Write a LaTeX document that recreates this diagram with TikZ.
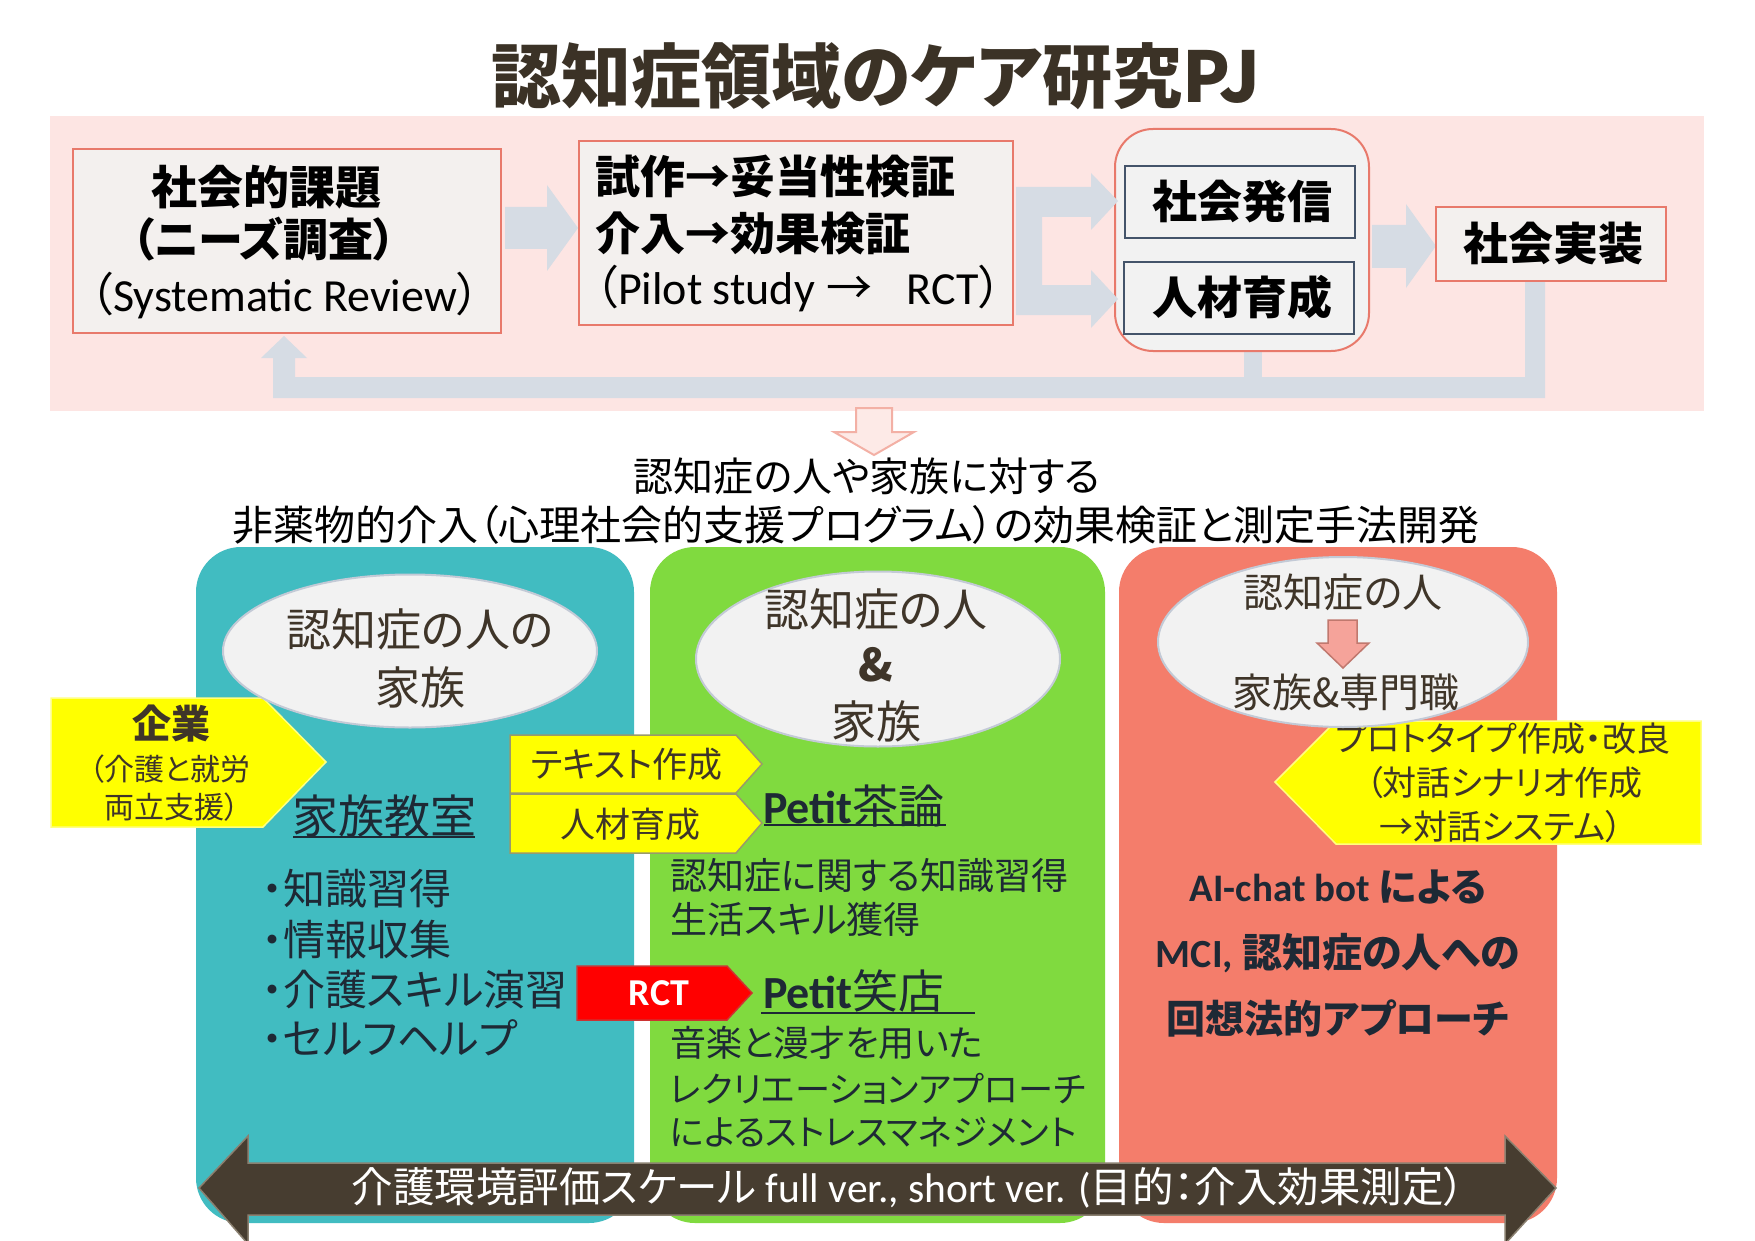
\documentclass[tikz,border=0pt]{standalone}
\usepackage{fontspec}
\setmainfont{Noto Sans CJK JP}[RawFeature=+palt]
\newfontfamily\cali{Carlito}
\usetikzlibrary{shapes.geometric}
\newcommand\myfs[1]{\fontsize{#1}{#1}\selectfont}
\definecolor{pinkband}{HTML}{FDE5E3}
\definecolor{boxfill}{HTML}{F3F0EE}
\definecolor{boxred}{HTML}{E8796B}
\definecolor{agrey}{HTML}{D6DCE4}
\definecolor{slate}{HTML}{44546A}
\definecolor{grpfill}{HTML}{F2F2F2}
\definecolor{tealp}{HTML}{41BCC1}
\definecolor{greenp}{HTML}{80DA3F}
\definecolor{salmp}{HTML}{F47D6B}
\definecolor{ellb}{HTML}{C3CAD6}
\definecolor{tbrown}{HTML}{3F3529}
\definecolor{tnavy}{HTML}{1E2935}
\definecolor{yel}{HTML}{FFFF00}
\definecolor{yelb}{HTML}{FFFF80}
\definecolor{olive}{HTML}{9A9A6A}
\definecolor{darkar}{HTML}{473D30}
\definecolor{darkarb}{HTML}{8A8070}
\definecolor{pinkar}{HTML}{FDEAE7}
\definecolor{pinkarb}{HTML}{F3B0A5}
\definecolor{minia}{HTML}{F5A39A}
\definecolor{miniab}{HTML}{C0786E}
\definecolor{titlec}{HTML}{3B3226}
\tikzset{
  txt/.style={inner sep=0pt, outer sep=0pt},
  topbox/.style={draw=boxred, line width=2, fill=boxfill, inner sep=0pt},
  innerbox/.style={draw=slate, line width=2, fill=grpfill, inner sep=0pt, minimum width=230, minimum height=72},
  panel/.style={rounded corners=45, inner sep=0pt, minimum height=676},
  ell/.style={ellipse, draw=ellb, line width=2, fill=grpfill, inner sep=0pt},
  blockar/.style={fill=agrey},
  yarrow/.style={fill=yel, draw=olive, line width=1.5},
  uline/.style={draw=tnavy, line width=2.5},
}
\begin{document}
\begin{tikzpicture}[x=1pt,y=-1pt]
\useasboundingbox (0,0) rectangle (1755,1241);
\fill[white] (0,0) rectangle (1755,1241);

% title
\node[txt, font=\myfs{70}\bfseries, text=titlec] (title) at (876,76) {認知症領域のケア研究PJ};

% top band
\fill[pinkband] (50,116) rectangle (1704,411);

% feedback loop arrow
\fill[blockar] (1545,281) -- (1545,398) -- (273,398) -- (273,358) -- (261,358) -- (284,336)
  -- (307,358) -- (295,358) -- (295,377) -- (1525,377) -- (1525,281) -- cycle;
\fill[blockar] (1244,350) rectangle (1262,378);

% boxes
\node[topbox, minimum width=428, minimum height=184] (b1) at (287,241) {};
\node[txt, font=\myfs{46}\bfseries] (b1a) at (266,187) {社会的課題};
\node[txt, font=\myfs{45}\bfseries] (b1b) at (264,239) {（ニーズ調査）};
\node[txt, font=\myfs{46}] (b1c) at (285,296) {（{\cali Systematic Review}）};

\node[topbox, minimum width=434, minimum height=184] (b2) at (796,233) {};
\node[txt, anchor=west, font=\myfs{45}\bfseries] (b2a) at (595,177) {試作→妥当性検証};
\node[txt, anchor=west, font=\myfs{45}\bfseries] (b2b) at (595,233) {介入→効果検証};
\node[txt, anchor=west, font=\myfs{46}] (b2c) at (595,289) {（{\cali Pilot study}\hspace{12pt}→\hspace{34pt}{\cali RCT}）};

% arrow b1 -> b2
\fill[blockar] (505,207) -- (547,207) -- (547,185) -- (578,228) -- (547,271) -- (547,249) -- (505,249) -- cycle;

% group box
\node[draw=boxred, line width=2, fill=grpfill, rounded corners=38, minimum width=254, minimum height=222, inner sep=0pt] (grp) at (1242,240) {};
\node[innerbox] (g1) at (1240,202) {};
\node[txt, font=\myfs{45}\bfseries] (g1t) at (1242,201) {社会発信};
\node[innerbox] (g2) at (1239,298) {};
\node[txt, font=\myfs{45}\bfseries] (g2t) at (1242,297) {人材育成};

% fork arrow b2 -> grp
\fill[blockar] (1016,187) -- (1091,187) -- (1091,173) -- (1118,201) -- (1091,230) -- (1091,217)
  -- (1042,217) -- (1042,285) -- (1091,285) -- (1091,270) -- (1118,299) -- (1091,328)
  -- (1091,315) -- (1016,315) -- cycle;

% arrow grp -> b3
\fill[blockar] (1372,225) -- (1406,225) -- (1406,204) -- (1436,246) -- (1406,288) -- (1406,268) -- (1372,268) -- cycle;

\node[topbox, minimum width=230, minimum height=73] (b3) at (1551,244) {};
\node[txt, font=\myfs{45}\bfseries] (b3t) at (1553,243) {社会実装};

% pink down arrow
\draw[fill=pinkar, draw=pinkarb, line width=2] (856,408) -- (892,408) -- (892,432) -- (914,432)
  -- (874,455) -- (834,432) -- (856,432) -- cycle;

% subtitles
\node[txt, font=\myfs{40}] (s1) at (867,476) {認知症の人や家族に対する};
\node[txt, font=\myfs{41}] (s2) at (856,525) {非薬物的介入（心理社会的支援プログラム）の効果検証と測定手法開発};

% panels
\node[panel, fill=tealp, minimum width=438] (p1) at (415,885) {};
\node[panel, fill=greenp, minimum width=455] (p2) at (877.5,885) {};
\node[panel, fill=salmp, minimum width=438] (p3) at (1338,885) {};

% yellow arrows (under ellipses)
\draw[fill=yel, draw=yelb, line width=1.5] (51,698) -- (263,698) -- (326,762) -- (263,827) -- (51,827) -- cycle;
\node[txt, font=\myfs{39}\bfseries, text=tbrown] (k1) at (171,724) {企業};
\node[txt, font=\myfs{30}, text=tbrown] (k2) at (170,769) {（介護と就労};
\node[txt, font=\myfs{30}, text=tbrown] (k3) at (172,807) {両立支援）};

\draw[fill=yel, draw=yelb, line width=1.5] (1701,721) -- (1336,721) -- (1275,782) -- (1336,844) -- (1701,844) -- cycle;
\node[txt, font=\myfs{34}, text=tbrown] (pr1) at (1503,739) {プロトタイプ作成・改良};
\node[txt, font=\myfs{34}, text=tbrown] (pr2) at (1504,783) {（対話シナリオ作成};
\node[txt, font=\myfs{34}, text=tbrown] (pr3) at (1501,827) {→対話システム）};

% ellipses
\node[ell, minimum width=374, minimum height=153] (e1) at (410,651) {};
\node[txt, font=\myfs{45}, text=tbrown] (e1a) at (420,629) {認知症の人の};
\node[txt, font=\myfs{45}, text=tbrown] (e1b) at (420,687) {家族};

\node[ell, minimum width=364, minimum height=175] (e2) at (878,659) {};
\node[txt, font=\myfs{45}, text=tbrown] (e2a) at (876,609) {認知症の人};
\node[txt, font=\myfs{45}\bfseries, text=tbrown] (e2b) at (876,665) {\&};
\node[txt, font=\myfs{45}, text=tbrown] (e2c) at (876,721) {家族};

\node[ell, minimum width=370, minimum height=170] (e3) at (1343,642) {};
\node[txt, font=\myfs{40}, text=tbrown] (e3a) at (1343,592) {認知症の人};
\draw[fill=minia, draw=miniab, line width=1.5] (1328,620) -- (1357,620) -- (1357,643) -- (1369,643)
  -- (1343,668) -- (1317,643) -- (1328,643) -- cycle;
\node[txt, font=\myfs{40}, text=tbrown] (e3b) at (1346,692) {家族\&専門職};

% left panel content
\node[txt, font=\myfs{46}, text=tnavy] (h1) at (384,816) {家族教室};
\draw[uline] (293,837) -- (475,837);
\node[txt, anchor=west, font=\myfs{42}, text=tnavy] (l1) at (262,889) {・知識習得};
\node[txt, anchor=west, font=\myfs{42}, text=tnavy] (l2) at (262,940) {・情報収集};
\node[txt, anchor=west, font=\myfs{42}, text=tnavy] (l3) at (262,990) {・介護スキル演習};
\node[txt, anchor=west, font=\myfs{42}, text=tnavy] (l4) at (262,1038) {・セルフヘルプ};

% middle yellow arrows
\draw[yarrow] (510,735) -- (736,735) -- (762,764) -- (736,793) -- (510,793) -- cycle;
\node[txt, font=\myfs{35}, text=tbrown] (y1) at (627,764) {テキスト作成};
\draw[yarrow] (510,794) -- (736,794) -- (762,823) -- (736,853) -- (510,853) -- cycle;
\node[txt, font=\myfs{35}, text=tbrown] (y2) at (630,824) {人材育成};

% RCT arrow
\draw[fill=red, draw=red!60!gray, line width=1.5] (577,966) -- (727,966) -- (752,993) -- (727,1020) -- (577,1020) -- cycle;
\node[txt, font=\cali\myfs{38}\bfseries, text=white] (rct) at (659,993) {RCT};

% middle panel content
\node[txt, anchor=west, font=\myfs{46}, text=tnavy] (h2) at (763,806) {{\cali\bfseries Petit}茶論};
\draw[uline] (764,825) -- (946,825);
\node[txt, anchor=west, font=\myfs{37}, text=tnavy] (m1) at (670,876) {認知症に関する知識習得};
\node[txt, anchor=west, font=\myfs{37}, text=tnavy] (m2) at (670,919) {生活スキル獲得};
\node[txt, anchor=west, font=\myfs{46}, text=tnavy] (h3) at (763,991) {{\cali\bfseries Petit}笑店};
\draw[uline] (761,1013) -- (975,1013);
\node[txt, anchor=west, font=\myfs{36}, text=tnavy] (m3) at (670,1043) {音楽と漫才を用いた};
\node[txt, anchor=west, font=\myfs{35.2}, text=tnavy] (m4) at (670,1089) {レクリエーションアプローチ};
\node[txt, anchor=west, font=\myfs{35.4}, text=tnavy] (m5) at (670,1132) {によるストレスマネジメント};

% right panel content
\node[txt, font=\myfs{39}\bfseries, text=tnavy] (r1) at (1338,887) {{\cali AI-chat bot} による};
\node[txt, font=\myfs{40}\bfseries, text=tnavy] (r2) at (1338,953) {{\cali MCI,} 認知症の人への};
\node[txt, font=\myfs{39}\bfseries, text=tnavy] (r3) at (1338,1018) {回想法的アプローチ};

% bottom double arrow
\draw[fill=darkar, draw=darkarb, line width=1.5] (199,1188) -- (248,1136) -- (248,1163) -- (1505,1163)
  -- (1505,1136) -- (1556,1188) -- (1505,1244) -- (1505,1215) -- (248,1215) -- (248,1244) -- cycle;
\node[txt, font=\myfs{41.5}, text=white] (sc) at (908,1188) {介護環境評価スケール{\cali\ full ver., short ver. (}目的：介入効果測定）};
\end{tikzpicture}
\end{document}
